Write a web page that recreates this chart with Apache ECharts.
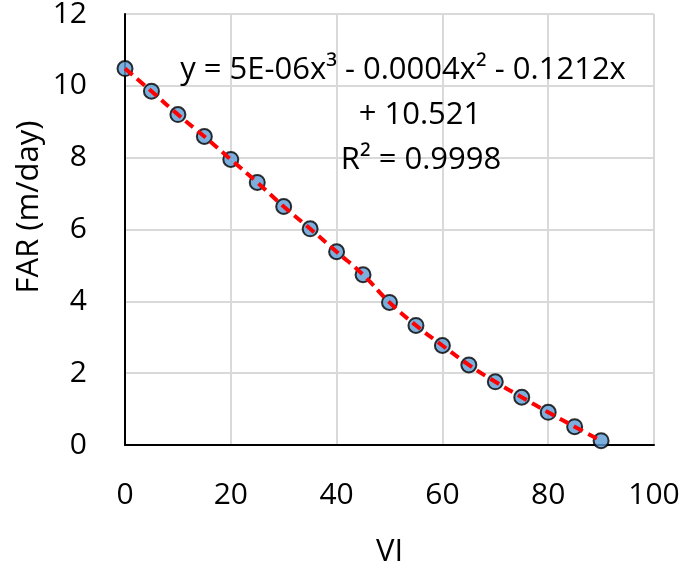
<!DOCTYPE html>
<html><head><meta charset="utf-8">
<script src="https://cdn.jsdelivr.net/npm/echarts@6/dist/echarts.min.js"></script>
<style>html,body{margin:0;padding:0;background:#fff}#c{width:685px;height:568px}</style>
</head><body><div id="c"></div>
<script>
const viValues = [0,5,10,15,20,25,30,35,40,45,50,55,60,65,70,75,80,85,90];
const farValues = [10.48,9.85,9.20,8.59,7.95,7.31,6.64,6.02,5.38,4.74,3.97,3.33,2.77,2.23,1.76,1.33,0.91,0.51,0.12];
const trendLines = ['y = 5E-06x³ - 0.0004x² - 0.1212x', '+ 10.521', 'R² = 0.9998'];
const xTitle = 'VI';
const yTitle = 'FAR (m/day)';

const pts = viValues.map((v,i)=>[v, farValues[i]]);
const FONT = 'Open Sans';
const chart = echarts.init(document.getElementById('c'));
chart.setOption({
  animation:false,
  backgroundColor:'#fff',
  grid:{left:125,right:31,top:14,bottom:123,containLabel:false,outerBoundsMode:'none'},
  xAxis:{type:'value',min:0,max:100,interval:20,name:xTitle,nameLocation:'middle',nameGap:92,
    nameTextStyle:{fontFamily:FONT,fontSize:31,color:'#000'},
    axisLine:{show:true,onZero:false,lineStyle:{color:'#000',width:2}},
    axisTick:{show:false},
    axisLabel:{fontFamily:FONT,fontSize:30,color:'#000',margin:35},
    splitLine:{show:true,lineStyle:{color:'#d9d9d9',width:2}}},
  yAxis:{type:'value',min:0,max:12,interval:2,
    axisLine:{show:true,onZero:false,lineStyle:{color:'#000',width:2}},
    axisTick:{show:false},
    axisLabel:{fontFamily:FONT,fontSize:30,color:'#000',margin:38},
    splitLine:{show:true,lineStyle:{color:'#d9d9d9',width:2}}},
  series:[
    {type:'scatter',data:pts,symbol:'circle',symbolSize:15,
      itemStyle:{color:'#5b9bd5',borderColor:'#000',borderWidth:2},z:2},
    {type:'line',data:pts,smooth:true,symbol:'none',
      lineStyle:{color:'#ff0000',width:4,type:[10,6]},z:3}
  ],
  graphic: [
    {type:'text',x:29,y:207,rotation:Math.PI/2,z:10,
      style:{text:yTitle,fontFamily:FONT,fontSize:31,fill:'#000',align:'center',verticalAlign:'middle'}},
    ...trendLines.map((t,i)=>({type:'text',x:[403,420,421][i],y:70+i*45,z:10,
      style:{text:t,fontFamily:FONT,fontSize:31,fill:'#000',align:'center',verticalAlign:'middle'}}))
  ]
});
</script></body></html>
